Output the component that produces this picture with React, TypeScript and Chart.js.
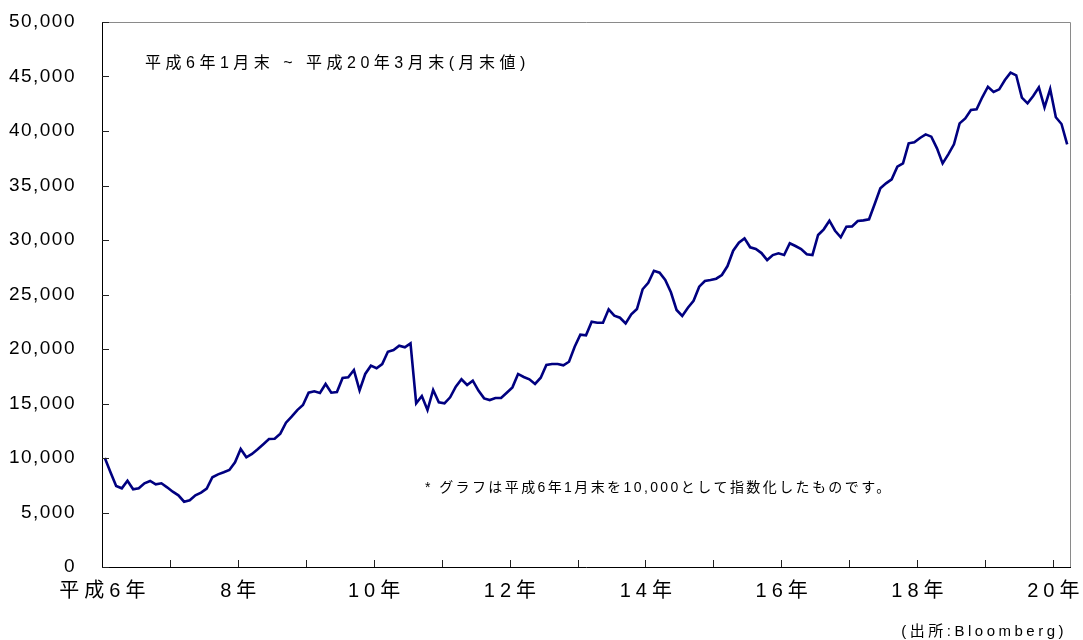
import { useEffect, useRef } from 'react';
import { Chart, registerables } from 'chart.js';

Chart.register(...registerables);

// Monthly index values (end of month), Heisei 6 Jan = 10,000
const h6 = [10000, 8700, 7430, 7220, 7920, 7130, 7220, 7680, 7890, 7590, 7680, 7310];
const h7 = [6910, 6580, 5990, 6120, 6580, 6820, 7190, 8230, 8500, 8690, 8900, 9600];
const h8 = [10830, 10060, 10370, 10800, 11260, 11740, 11770, 12230, 13240, 13790, 14400, 14860];
const h9 = [15990, 16120, 15960, 16790, 15990, 16050, 17340, 17400, 18070, 16210, 17710, 18470];
const h10 = [18230, 18620, 19750, 19910, 20300, 20150, 20520, 15020, 15690, 14400, 16240, 15110];
const h11 = [15020, 15570, 16540, 17220, 16700, 17090, 16180, 15470, 15320, 15500, 15500, 15990];
const h12 = [16480, 17710, 17430, 17220, 16790, 17370, 18530, 18620, 18620, 18500, 18830, 20210];
const h13 = [21310, 21260, 22500, 22410, 22410, 23640, 23060, 22870, 22350, 23180, 23670, 25480];
const h14 = [26080, 27180, 27000, 26330, 25200, 23580, 23030, 23790, 24430, 25720, 26240, 26330];
const h15 = [26450, 26790, 27610, 29020, 29750, 30150, 29330, 29170, 28800, 28160, 28620, 28780];
const h16 = [28620, 29700, 29450, 29170, 28690, 28620, 30460, 30980, 31770, 30850, 30250, 31220];
const h17 = [31250, 31740, 31800, 31900, 33300, 34740, 35200, 35570, 36720, 37030, 38870, 38960];
const h18 = [39360, 39690, 39480, 38410, 37030, 37860, 38780, 40700, 41160, 41930, 41990, 43090];
const h19 = [44060, 43580, 43820, 44680, 45350, 45110, 43060, 42540, 43210, 44010, 42170, 43850];
const h20 = [41260, 40640, 38780];

const yearSeries = [h6, h7, h8, h9, h10, h11, h12, h13, h14, h15, h16, h17, h18, h19, h20];
const firstYear = 6;

const xTickLabels = ['平成6年', '8年', '10年', '12年', '14年', '16年', '18年', '20年'];
const yMin = 0;
const yMax = 50000;
const yStep = 5000;

const titleText = '平成6年1月末 ~ 平成20年3月末(月末値)';
const noteText = '* グラフは平成6年1月末を10,000として指数化したものです。';
const sourceText = '(出所:Bloomberg)';

const values: number[] = [];
const labels: string[] = [];
yearSeries.forEach((arr, yi) => {
  arr.forEach((v, mi) => {
    values.push(v);
    labels.push(`平成${firstYear + yi}年${mi + 1}月`);
  });
});

const FONT = '"Liberation Sans", "Noto Sans CJK JP", sans-serif';

const spacingPlugin = {
  id: 'spacing',
  beforeDraw(chart: any) {
    const specs: [string, string][] = [['x', '5px'], ['y', '1.5px']];
    specs.forEach(([id, ls]) => {
      const s: any = chart.scales[id];
      if (!s || s.__patched) return;
      const orig = s.drawLabels.bind(s);
      s.drawLabels = (area: any) => {
        const ctx: any = chart.ctx;
        ctx.save();
        ctx.letterSpacing = ls;
        orig(area);
        ctx.restore();
      };
      s.__patched = true;
    });
  },
};

const framePlugin = {
  id: 'frame',
  afterDraw(chart: any) {
    const ctx: any = chart.ctx;
    const { left, right, top, bottom } = chart.chartArea;
    const xs = chart.scales.x;
    const ys = chart.scales.y;
    ctx.save();
    // gray top & right border
    ctx.strokeStyle = '#8a8a8a';
    ctx.lineWidth = 1;
    ctx.beginPath();
    ctx.moveTo(left, top + 0.5);
    ctx.lineTo(right + 0.5, top + 0.5);
    ctx.lineTo(right + 0.5, bottom);
    ctx.stroke();
    // inward y ticks
    ctx.strokeStyle = '#222';
    ctx.beginPath();
    for (let v = yMin; v <= yMax; v += yStep) {
      const py = Math.round(ys.getPixelForValue(v)) + 0.5;
      ctx.moveTo(left, py);
      ctx.lineTo(left + 7, py);
    }
    // inward x ticks at year boundaries
    for (let i = 12; i < values.length; i += 12) {
      const px = Math.round((xs.getPixelForValue(i) + xs.getPixelForValue(i - 1)) / 2) + 0.5;
      ctx.moveTo(px, bottom);
      ctx.lineTo(px, bottom - 7);
    }
    ctx.stroke();

    // texts
    ctx.fillStyle = '#000';
    ctx.textBaseline = 'middle';
    ctx.font = `16px ${FONT}`;
    ctx.letterSpacing = '4.5px';
    ctx.textAlign = 'left';
    ctx.fillText(titleText, left + 43, top + 42);

    ctx.font = `14px ${FONT}`;
    ctx.letterSpacing = '2.4px';
    ctx.fillText(noteText, left + 323, ys.getPixelForValue(7200));

    ctx.font = `15px ${FONT}`;
    ctx.letterSpacing = '3.5px';
    ctx.textAlign = 'right';
    ctx.fillText(sourceText, chart.width - 16, chart.height - 8);
    ctx.restore();
  },
};

export default function App() {
  const ref = useRef<HTMLCanvasElement | null>(null);
  useEffect(() => {
    document.body.style.margin = '0';
    const canvas = ref.current;
    if (!canvas) return;
    const chart = new Chart(canvas, {
      type: 'line',
      data: {
        labels,
        datasets: [
          {
            data: values,
            borderColor: '#000080',
            borderWidth: 2.6,
            pointRadius: 0,
            tension: 0,
            fill: false,
          },
        ],
      },
      options: {
        responsive: false,
        animation: false,
        layout: { padding: { top: 22, right: 13, left: 0, bottom: 0 } },
        plugins: { legend: { display: false }, tooltip: { enabled: false } },
        scales: {
          x: {
            type: 'category',
            offset: true,
            grid: { display: false, drawTicks: false },
            border: { display: true, color: '#000', width: 1 },
            ticks: {
              autoSkip: false,
              maxRotation: 0,
              minRotation: 0,
              padding: 12,
              color: '#000',
              font: { family: FONT, size: 20 },
              callback: (_v: any, i: number) => (i % 24 === 0 ? xTickLabels[i / 24] : ''),
            },
            afterFit: (s: any) => {
              s.height = 73;
              s.paddingLeft = 0;
              s.paddingRight = 0;
            },
          },
          y: {
            min: yMin,
            max: yMax,
            grid: { display: false, drawTicks: false },
            border: { display: true, color: '#000', width: 1 },
            ticks: {
              stepSize: yStep,
              padding: 26,
              color: '#000',
              font: { family: FONT, size: 19 },
              callback: (v: any) => Number(v).toLocaleString('en-US'),
            },
            afterFit: (s: any) => {
              s.width = 102;
              s.paddingTop = 0;
              s.paddingBottom = 0;
            },
          },
        },
      } as any,
      plugins: [spacingPlugin, framePlugin],
    });
    return () => chart.destroy();
  }, []);
  return (
    <div style={{ width: 1083, height: 640, background: '#fff' }}>
      <canvas ref={ref} width={1083} height={640} />
    </div>
  );
}
